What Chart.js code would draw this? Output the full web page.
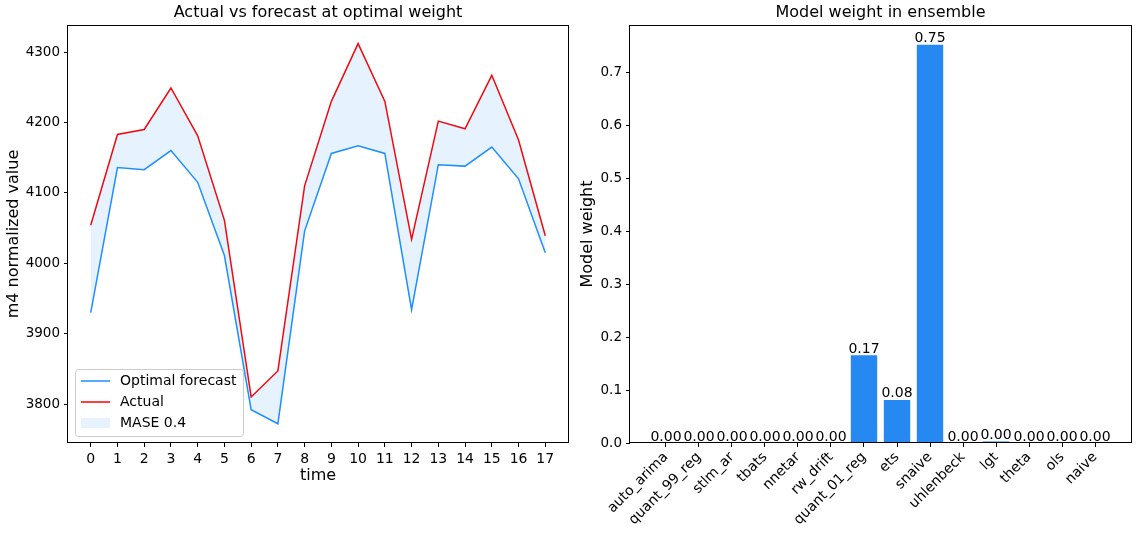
<!DOCTYPE html>
<html>
    <head>
        <meta charset="utf-8">
        <title>Optimal weight ensemble</title>
        <script src="https://cdn.jsdelivr.net/npm/chart.js@4.4.0/dist/chart.umd.min.js"></script>
        <style>
            body { margin: 0; background: #fff; }
            canvas { position: absolute; top: 0; }
            #forecast { left: 0; }
            #weights { left: 575px; }
        </style>
    </head>
    <body>
        <canvas id="forecast" width="575" height="535"></canvas>
        <canvas id="weights" width="561" height="535"></canvas>

        <script>
            const time = [0, 1, 2, 3, 4, 5, 6, 7, 8, 9, 10, 11, 12, 13, 14, 15, 16, 17]
            const forecast = [3930, 4136, 4133, 4160, 4115, 4011, 3792, 3772, 4046, 4156, 4167, 4156, 3934, 4140, 4138, 4165, 4120, 4015]
            const actual = [4054, 4183, 4190, 4249, 4181, 4061, 3810, 3847, 4110, 4230, 4312, 4230, 4034, 4202, 4191, 4267, 4175, 4039]
            const valueTicks = [3800, 3900, 4000, 4100, 4200, 4300]
            const fillLabel = 'MASE 0.4'

            const models = ['auto_arima', 'quant_99_reg', 'stlm_ar', 'tbats', 'nnetar', 'rw_drift', 'quant_01_reg',
                'ets', 'snaive', 'uhlenbeck', 'lgt', 'theta', 'ols', 'naive']
            const weights = [0, 0, 0, 0, 0, 0, 0.166, 0.0813, 0.7526, 0, 0.003, 0, 0, 0]
            const weightTicks = [0, 0.1, 0.2, 0.3, 0.4, 0.5, 0.6, 0.7]

            const blue = '#1f8ffc'
            const fillBlue = 'rgba(30, 144, 255, 0.11)'
            const barBlue = '#2689f2'

            Chart.defaults.font.family = '"DejaVu Sans", sans-serif'
            Chart.defaults.color = '#000'

            // matplotlib style box round the axes
            const frame = {
                id: 'frame',
                afterDatasetsDraw(chart) {
                    const { ctx, chartArea: a } = chart
                    ctx.save()
                    ctx.strokeStyle = '#000'
                    ctx.lineWidth = 1
                    ctx.strokeRect(Math.round(a.left) - 0.5, Math.round(a.top) + 0.5,
                        Math.round(a.right - a.left) + 1, Math.round(a.bottom - a.top) - 1)
                    ctx.restore()
                },
            }

            // legend drawn inside the plot, lower left
            const innerLegend = {
                id: 'innerLegend',
                afterDraw(chart) {
                    const { ctx, chartArea: a } = chart
                    const x = a.left + 7, y = a.bottom - 74
                    ctx.save()
                    ctx.beginPath()
                    ctx.roundRect(x + 0.5, y + 0.5, 168, 67, 3)
                    ctx.fillStyle = 'rgba(255, 255, 255, 0.8)'
                    ctx.fill()
                    ctx.strokeStyle = '#cccccc'
                    ctx.lineWidth = 1
                    ctx.stroke()

                    const items = chart.data.datasets.map(d => ({ text: d.label, color: d.borderColor }))
                    items.push({ text: fillLabel, fill: fillBlue })
                    ctx.font = '14px "DejaVu Sans"'
                    ctx.textBaseline = 'middle'
                    ctx.fillStyle = '#000'
                    items.forEach((it, i) => {
                        const ry = y + 12 + i * 21
                        if (it.fill) {
                            ctx.fillStyle = it.fill
                            ctx.fillRect(x + 6, ry - 5, 29, 10)
                        } else {
                            ctx.beginPath()
                            ctx.moveTo(x + 6, ry)
                            ctx.lineTo(x + 35, ry)
                            ctx.strokeStyle = it.color
                            ctx.lineWidth = 1.5
                            ctx.stroke()
                        }
                        ctx.fillStyle = '#000'
                        ctx.fillText(it.text, x + 45, ry)
                    })
                    ctx.restore()
                },
            }

            // value text over each bar
            const barValues = {
                id: 'barValues',
                afterDatasetsDraw(chart) {
                    const { ctx } = chart
                    const meta = chart.getDatasetMeta(0)
                    ctx.save()
                    ctx.font = '14px "DejaVu Sans"'
                    ctx.textAlign = 'center'
                    ctx.textBaseline = 'alphabetic'
                    ctx.fillStyle = '#000'
                    meta.data.forEach((bar, i) => {
                        ctx.fillText(weights[i].toFixed(2), bar.x, bar.y - 2.5)
                    })
                    ctx.restore()
                },
            }

            const tickGrid = { drawOnChartArea: false, tickLength: 4, color: '#000' }

            new Chart('forecast', {
                type: 'line',
                data: {
                    datasets: [
                        {
                            label: 'Optimal forecast',
                            data: time.map((t, i) => ({ x: t, y: forecast[i] })),
                            borderColor: blue,
                            backgroundColor: fillBlue,
                            fill: '+1',
                        },
                        {
                            label: 'Actual',
                            data: time.map((t, i) => ({ x: t, y: actual[i] })),
                            borderColor: '#ff0000',
                            fill: false,
                        },
                    ],
                },
                options: {
                    responsive: false,
                    animation: false,
                    layout: { padding: { right: 7, bottom: 50 } },
                    elements: {
                        line: { tension: 0, borderWidth: 1.5 },
                        point: { radius: 0 },
                    },
                    plugins: {
                        legend: { display: false },
                        tooltip: { enabled: false },
                        title: {
                            display: true,
                            text: 'Actual vs forecast at optimal weight',
                            fullSize: false,
                            color: '#000',
                            font: { size: 16, weight: 'normal' },
                            padding: { top: 3, bottom: 2.8 },
                        },
                    },
                    scales: {
                        x: {
                            type: 'linear',
                            min: -0.85,
                            max: 17.85,
                            afterBuildTicks: s => { s.ticks = time.map(v => ({ value: v })) },
                            afterFit: s => { s.height = 42 },
                            ticks: { font: { size: 14 }, padding: 4, maxRotation: 0, autoSkip: false, callback: v => String(v) },
                            grid: tickGrid,
                            border: { display: false },
                            title: { display: true, text: 'time', font: { size: 16 }, padding: 0 },
                        },
                        y: {
                            min: 3744.6,
                            max: 4338.5,
                            afterBuildTicks: s => { s.ticks = valueTicks.map(v => ({ value: v })) },
                            afterFit: s => { s.width = 68 },
                            ticks: { font: { size: 13.5 }, padding: 4, callback: v => String(v) },
                            grid: tickGrid,
                            border: { display: false },
                            title: { display: true, text: 'm4 normalized value', font: { size: 16 }, padding: { top: 4, bottom: 0 } },
                        },
                    },
                },
                plugins: [frame, innerLegend],
            })

            new Chart('weights', {
                type: 'bar',
                data: {
                    datasets: [
                        {
                            data: models.map((m, i) => ({ x: i, y: weights[i] })),
                            backgroundColor: barBlue,
                            categoryPercentage: 1,
                            barPercentage: 0.8,
                        },
                    ],
                },
                options: {
                    responsive: false,
                    animation: false,
                    layout: { padding: { right: 5 } },
                    plugins: {
                        legend: { display: false },
                        tooltip: { enabled: false },
                        title: {
                            display: true,
                            text: 'Model weight in ensemble',
                            fullSize: false,
                            color: '#000',
                            font: { size: 16, weight: 'normal' },
                            padding: { top: 3, bottom: 2.8 },
                        },
                    },
                    scales: {
                        x: {
                            type: 'linear',
                            min: -1.09,
                            max: 14.09,
                            offset: false,
                            afterBuildTicks: s => { s.ticks = models.map((m, i) => ({ value: i })) },
                            afterFit: s => { s.height = 92 },
                            ticks: { font: { size: 14 }, padding: 2, minRotation: 45, maxRotation: 45, autoSkip: false, callback: v => models[v] },
                            grid: Object.assign({ offset: false }, tickGrid),
                            border: { display: false },
                        },
                        y: {
                            min: 0,
                            max: 0.79,
                            afterBuildTicks: s => { s.ticks = weightTicks.map(v => ({ value: v })) },
                            afterFit: s => { s.width = 55 },
                            ticks: { font: { size: 13.5 }, padding: 4, callback: v => v.toFixed(1) },
                            grid: tickGrid,
                            border: { display: false },
                            title: { display: true, text: 'Model weight', font: { size: 16 }, padding: { top: 3.4, bottom: 0 } },
                        },
                    },
                },
                plugins: [frame, barValues],
            })
        </script>
    </body>
</html>
